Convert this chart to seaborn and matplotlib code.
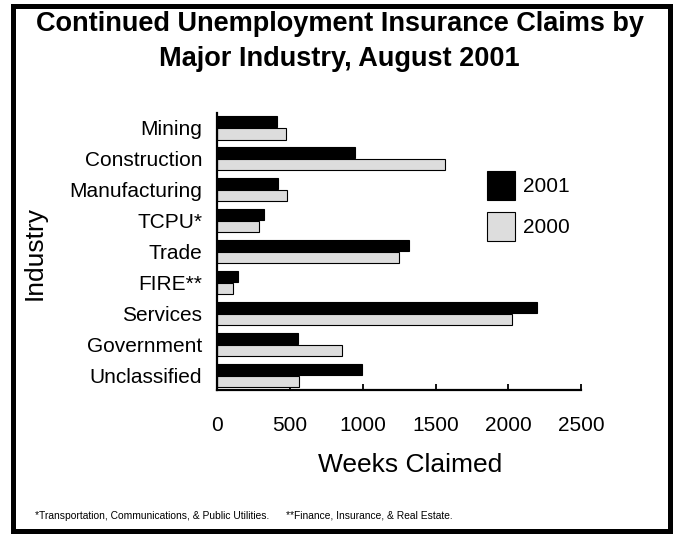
import matplotlib
matplotlib.use("Agg")
import matplotlib.pyplot as plt
from matplotlib.patches import Patch, Rectangle
import pandas as pd
import seaborn as sns

# Continued claims (weeks claimed) by major industry
industries = ["Mining", "Construction", "Manufacturing", "TCPU*", "Trade",
              "FIRE**", "Services", "Government", "Unclassified"]
weeks_2001 = [413, 945, 415, 323, 1318, 142, 2197, 553, 993]
weeks_2000 = [470, 1564, 479, 287, 1252, 106, 2025, 856, 560]
years = ["2001", "2000"]
x_ticks = [0, 500, 1000, 1500, 2000, 2500]

title_lines = ["Continued Unemployment Insurance Claims by",
               "Major Industry, August 2001"]
footnote_1 = "*Transportation, Communications, & Public Utilities."
footnote_2 = "**Finance, Insurance, & Real Estate."

df = pd.DataFrame({
    "industry": industries * 2,
    "year": [years[0]] * len(industries) + [years[1]] * len(industries),
    "weeks": weeks_2001 + weeks_2000,
})

sns.set_style("white")
plt.rcParams["font.family"] = ["Liberation Sans", "DejaVu Sans"]
plt.rcParams.update({"text.color": "black", "axes.labelcolor": "black",
                     "xtick.color": "black", "ytick.color": "black"})

W, H = 678, 535
fig = plt.figure(figsize=(W / 100, H / 100), dpi=100)
ax = fig.add_axes([217.3 / W, 1 - 390 / H, (581 - 217.3) / W, (390 - 113) / H])

palette = {"2001": "#000000", "2000": "#dddddd"}
sns.barplot(data=df, y="industry", x="weeks", hue="year", hue_order=years,
            order=industries, palette=palette, orient="h", width=0.78,
            gap=0.05, edgecolor="black", linewidth=0.8, saturation=1,
            legend=False, ax=ax)

ax.set_xlim(0, 2500)
ax.set_ylim(8.475, -0.478)
ax.set_xticks(x_ticks)
ax.set_xticklabels([str(t) for t in x_ticks])
ax.set_xlabel("")
ax.set_ylabel("")
ax.tick_params(axis="x", direction="in", length=4.5, width=1.3, color="black",
               labelcolor="black", labelsize=15, pad=19, bottom=True)
ax.tick_params(axis="y", length=0, labelsize=15, pad=11, labelcolor="black")
for s in ["top", "right"]:
    ax.spines[s].set_visible(False)
for s in ["left", "bottom"]:
    ax.spines[s].set_color("black")
    ax.spines[s].set_linewidth(1.6)
ax.grid(False)

handles = [Patch(facecolor=palette[y], edgecolor="black", linewidth=0.8) for y in years]
ax.legend(handles, years, loc="upper left", bbox_to_anchor=(487 / W, 1 - 171 / H),
          bbox_transform=fig.transFigure, frameon=False, fontsize=15,
          handlelength=1.34, handleheight=1.76, handletextpad=0.4,
          labelspacing=0.56, borderpad=0, borderaxespad=0, labelcolor="black")

fig.text(339.5 / W, 1 - 31 / H, title_lines[0], ha="center", va="baseline",
         fontsize=19.5, fontweight="bold", color="black")
fig.text(339.5 / W, 1 - 66 / H, title_lines[1], ha="center", va="baseline",
         fontsize=19.5, fontweight="bold", color="black")
fig.text(35 / W, 1 - 253 / H, "Industry", rotation=90, ha="center", va="center",
         fontsize=19, color="black")
fig.text(410.5 / W, 1 - 472 / H, "Weeks Claimed", ha="center", va="baseline",
         fontsize=19, color="black")
fig.text(35 / W, 1 - 519 / H, footnote_1, ha="left", va="baseline", fontsize=7.4,
         color="black")
fig.text(286 / W, 1 - 519 / H, footnote_2, ha="left", va="baseline", fontsize=7.4,
         color="black")

fig.patches.append(Rectangle((12.5 / W, 1 - 530.5 / H), (669.5 - 12.5) / W,
                             (530.5 - 6) / H, transform=fig.transFigure,
                             fill=False, edgecolor="black", linewidth=3.6))

fig.savefig("out.png", dpi=100)
